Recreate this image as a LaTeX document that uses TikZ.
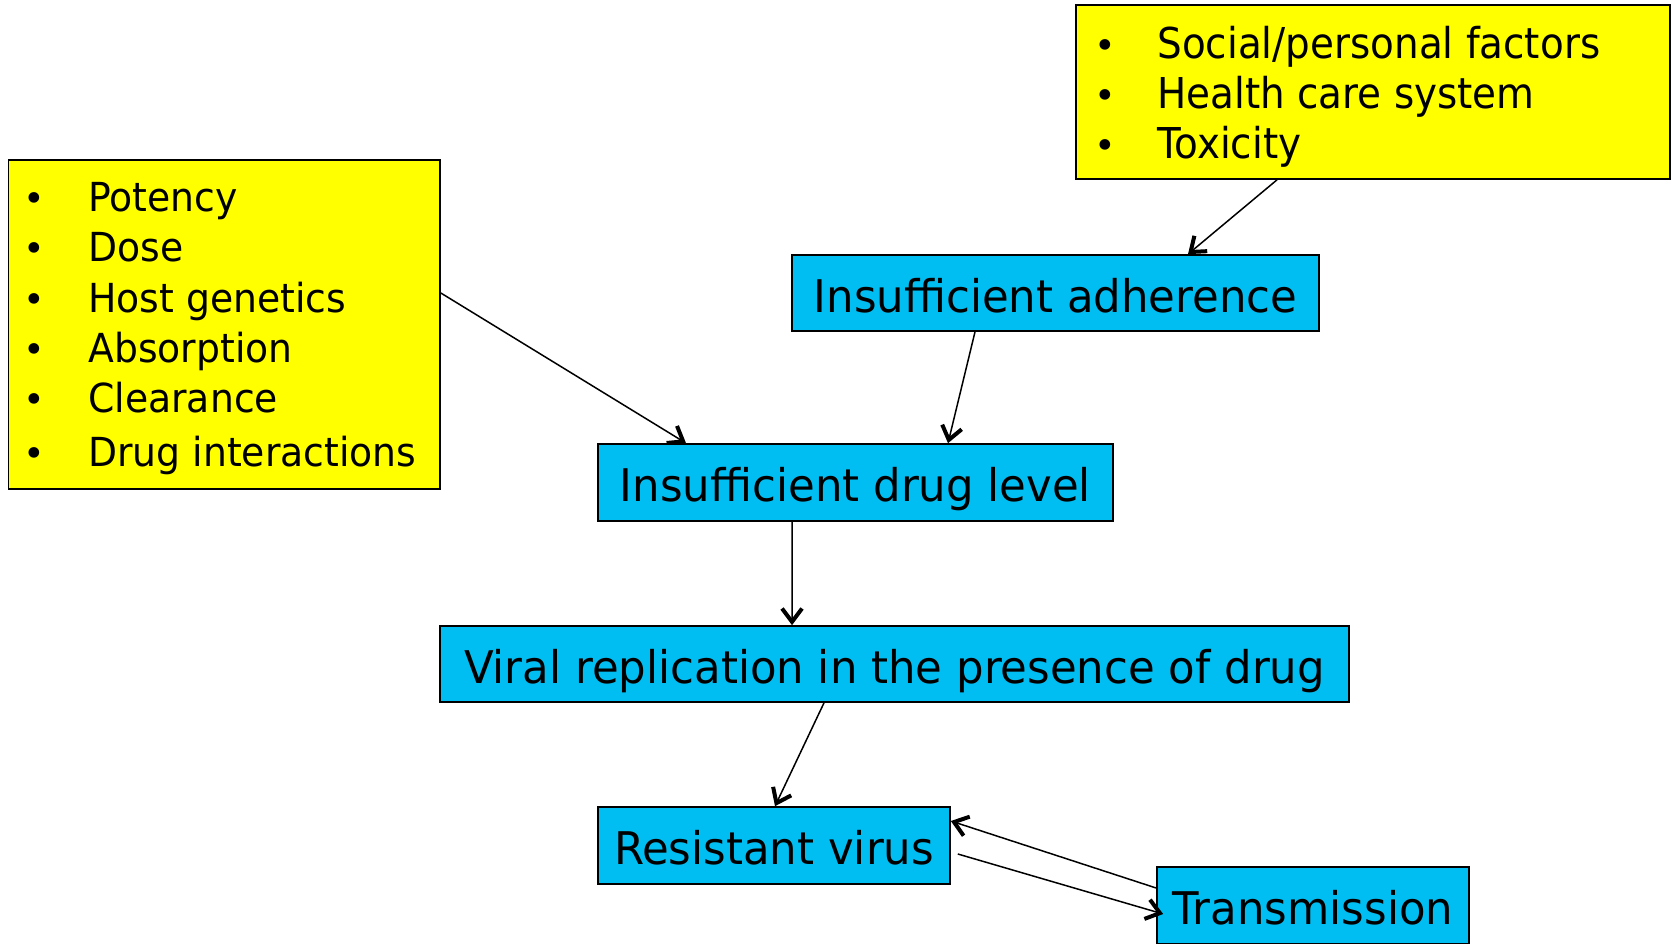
\documentclass[tikz,border=0pt]{standalone}
\usepackage{fontspec}
\setmainfont{DejaVu Sans}
\newfontfamily\bluefont{DejaVu Sans}[FakeStretch=0.965]
\newfontfamily\leftfont{DejaVu Sans}[FakeStretch=0.943]
\newfontfamily\topfont{DejaVu Sans}[FakeStretch=0.915]
\usetikzlibrary{arrows.meta}
\definecolor{cyanbox}{RGB}{0,190,242}
\definecolor{yelbox}{RGB}{255,255,0}
\begin{document}
\begin{tikzpicture}[x=0.6pt,y=-0.6pt,
  bluebox/.style={draw=black, line width=1pt, fill=cyanbox, inner sep=0pt,
    text height=23pt, text depth=0pt, font=\bluefont\fontsize{27}{32}\selectfont},
  yellowbox/.style={draw=black, line width=1pt, fill=yelbox, inner sep=0pt},
  itemtxt/.style={anchor=base west, inner sep=0pt, font=\leftfont\fontsize{24}{28}\selectfont},
  toptxt/.style={anchor=base west, inner sep=0pt, font=\topfont\fontsize{25.5}{30}\selectfont},
  bul/.style={anchor=base, inner sep=0pt, font=\fontsize{22}{28}\selectfont},
  arr/.style={-{Straight Barb[length=8pt,width=12pt,line width=2.4pt]}, line width=0.9pt}
]
\useasboundingbox (0,0) rectangle (1671,943);
% yellow boxes
\node[yellowbox, minimum width=356.4pt, minimum height=104.4pt] (topbox) at (1373,92) {};
\node[yellowbox, minimum width=258.9pt, minimum height=197.4pt] (leftbox) at (224.25,324.5) {};
% top box items
\node[bul] (tb1) at (1105,59) {•};
\node[bul] (tb2) at (1105,109) {•};
\node[bul] (tb3) at (1105,159) {•};
\node[toptxt] (tt1) at (1157,59) {Social/personal factors};
\node[toptxt] (tt2) at (1157,109) {Health care system};
\node[toptxt] (tt3) at (1157,159) {Toxicity};
% left box items
\node[bul] (lb1) at (34,211) {•};
\node[bul] (lb2) at (34,261) {•};
\node[bul] (lb3) at (34,312) {•};
\node[bul] (lb4) at (34,362) {•};
\node[bul] (lb5) at (34,412) {•};
\node[bul] (lb6) at (34,466) {•};
\node[itemtxt] (lt1) at (88,211) {Potency};
\node[itemtxt] (lt2) at (88,261) {Dose};
\node[itemtxt] (lt3) at (88,312) {Host genetics};
\node[itemtxt] (lt4) at (88,362) {Absorption};
\node[itemtxt] (lt5) at (88,412) {Clearance};
\node[itemtxt] (lt6) at (88,466) {Drug interactions};
% blue boxes
\node[bluebox, minimum width=316.2pt, minimum height=45.6pt] (adh) at (1055.5,293) {Insufficient adherence};
\node[bluebox, minimum width=309pt, minimum height=46.2pt] (drug) at (855.5,482.5) {Insufficient drug level};
\node[bluebox, minimum width=545.4pt, minimum height=45.6pt] (viral) at (894.5,664) {Viral replication in the presence of drug};
\node[bluebox, minimum width=211.2pt, minimum height=46.2pt] (res) at (774,845.5) {Resistant virus};
\node[bluebox, minimum width=187.2pt, minimum height=46.2pt] (trans) at (1313,905.5) {Transmission};
% connectors
\draw[arr] ([xshift=-57.6pt]topbox.south) -- ([xshift=79.5pt]adh.north);
\draw[arr] ([yshift=18.9pt]leftbox.east) -- ([xshift=-101.7pt]drug.north);
\draw[arr] ([xshift=-48.3pt]adh.south) -- ([xshift=55.5pt]drug.north);
\draw[arr] ([xshift=-38.1pt]drug.south) -- ([xshift=-61.5pt]viral.north);
\draw[arr] ([xshift=-42.3pt]viral.south) -- ([xshift=0.6pt]res.north);
\draw[arr] ([yshift=10.5pt]trans.west) -- ([yshift=14.7pt]res.east);
\draw[arr] ([xshift=4.2pt,yshift=-5.1pt]res.east) -- ([xshift=4.2pt,yshift=-5.1pt]trans.west);
\end{tikzpicture}
\end{document}
